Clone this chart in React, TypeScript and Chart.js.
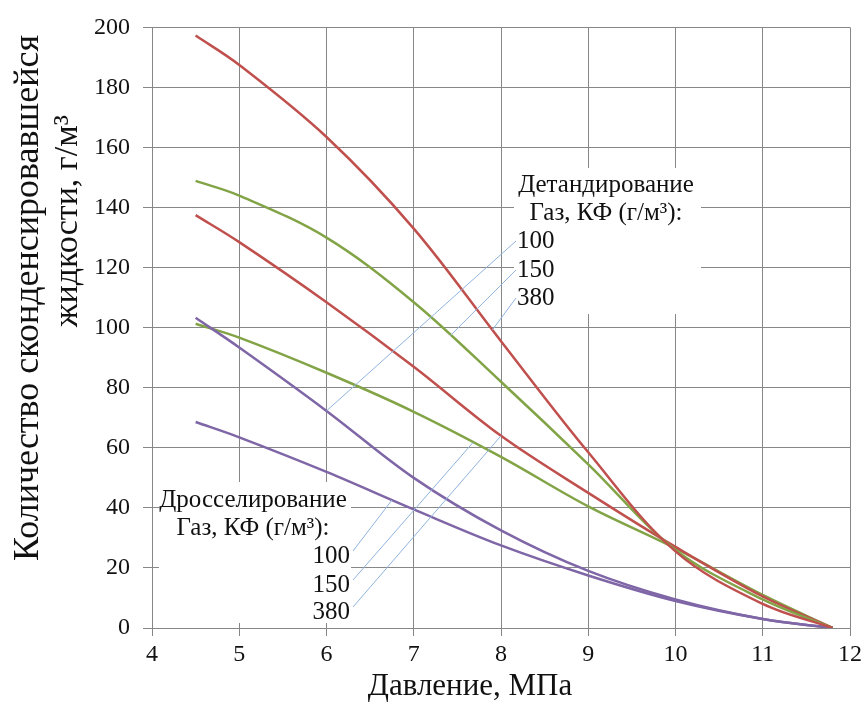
import React, { useEffect, useRef } from 'react';
import { Chart, registerables } from 'chart.js';

Chart.register(...registerables);

// ---- data ----
const pressures = [4.5, 5, 6, 7, 8, 9, 10, 11, 11.8];
const detander380 = [197.3, 187.5, 163.5, 133, 95.5, 58.5, 25.5, 8, 0];
const detander150 = [148.9, 144, 130, 108.5, 82, 54.5, 26, 9.5, 0];
const detander100 = [103.3, 93.4, 72.3, 50, 32.5, 19, 9.5, 3, 0];
const throttle380 = [137.5, 128.5, 108.5, 87, 64, 45, 27, 10.5, 0];
const throttle150 = [101.3, 96.7, 85, 72, 57, 40.5, 26.5, 11, 0];
const throttle100 = [68.6, 63.5, 52, 39.5, 27.5, 17.5, 9, 3, 0];

const gasLabels = ['100', '150', '380'];
// leader line targets (data units) for 100, 150, 380
const detanderLeaderX = [6, 7.42, 7.9];
const detanderLeaderY = [72.3, 97.4, 99.2];
const throttleLeaderX = [6.75, 7.68, 8.0];
const throttleLeaderY = [42.6, 61.8, 64];

const xTitle = 'Давление, МПа';
const yTitle1 = 'Количество сконденсировавшейся';
const yTitle2 = 'жидкости, г/м³';
const detanderTitle = 'Детандирование';
const throttleTitle = 'Дросселирование';
const gasTitle = 'Газ, КФ (г/м³):';

const RED = '#C0504D';
const GREEN = '#82A447';
const PURPLE = '#7F66A6';
const GRID = '#878787';
const LEADER = '#8FB3DE';
const FONT = '"Liberation Serif", "Times New Roman", serif';

const mk = (ys: number[]) => pressures.map((x, i) => ({ x, y: ys[i] }));

const annotationPlugin = {
  id: 'annots',
  beforeDatasetsDraw(chart: any) {
    const ctx = chart.ctx;
    ctx.save();
    ctx.fillStyle = '#ffffff';
    ctx.fillRect(514, 168, 187, 146);
    ctx.fillRect(159, 482, 192, 141);
    ctx.restore();
  },
  afterDatasetsDraw(chart: any) {
    const ctx = chart.ctx;
    const xs = chart.scales.x;
    const ys = chart.scales.y;
    ctx.save();
    ctx.strokeStyle = LEADER;
    ctx.lineWidth = 1;
    const upBase = [248, 277, 305];
    const lowBase = [563, 592, 619];
    for (let i = 0; i < 3; i++) {
      ctx.beginPath();
      ctx.moveTo(516, upBase[i] - 7);
      ctx.lineTo(xs.getPixelForValue(detanderLeaderX[i]), ys.getPixelForValue(detanderLeaderY[i]));
      ctx.stroke();
      ctx.beginPath();
      ctx.moveTo(353, lowBase[i] - 12);
      ctx.lineTo(xs.getPixelForValue(throttleLeaderX[i]), ys.getPixelForValue(throttleLeaderY[i]));
      ctx.stroke();
    }
    ctx.fillStyle = '#111';
    ctx.font = `25px ${FONT}`;
    ctx.textBaseline = 'alphabetic';
    ctx.textAlign = 'center';
    ctx.fillText(detanderTitle, 606, 192);
    ctx.fillText(gasTitle, 606, 220);
    ctx.fillText(throttleTitle, 253, 507);
    ctx.fillText(gasTitle, 253, 535);
    ctx.textAlign = 'left';
    for (let i = 0; i < 3; i++) ctx.fillText(gasLabels[i], 517, upBase[i]);
    ctx.textAlign = 'right';
    for (let i = 0; i < 3; i++) ctx.fillText(gasLabels[i], 350, lowBase[i]);
    ctx.restore();
  },
  afterDraw(chart: any) {
    const ctx = chart.ctx;
    ctx.save();
    ctx.fillStyle = '#111';
    ctx.textAlign = 'center';
    ctx.font = `31px ${FONT}`;
    ctx.textBaseline = 'alphabetic';
    ctx.fillText(xTitle, 470, 695);
    ctx.textBaseline = 'middle';
    ctx.font = `36px ${FONT}`;
    ctx.translate(29, 298);
    ctx.rotate(-Math.PI / 2);
    ctx.fillText(yTitle1, 0, 0);
    ctx.restore();
    ctx.save();
    ctx.fillStyle = '#111';
    ctx.textAlign = 'center';
    ctx.textBaseline = 'middle';
    ctx.font = `34px ${FONT}`;
    ctx.translate(68, 221);
    ctx.rotate(-Math.PI / 2);
    ctx.fillText(yTitle2, 0, 0);
    ctx.restore();
  },
};

export default function App() {
  const ref = useRef<HTMLCanvasElement | null>(null);
  useEffect(() => {
    if (!ref.current) return;
    const chart = new Chart(ref.current, {
      type: 'line',
      data: {
        datasets: [
          { label: 'Детандирование 380', data: mk(detander380), borderColor: RED },
          { label: 'Детандирование 150', data: mk(detander150), borderColor: GREEN },
          { label: 'Детандирование 100', data: mk(detander100), borderColor: PURPLE },
          { label: 'Дросселирование 380', data: mk(throttle380), borderColor: RED },
          { label: 'Дросселирование 150', data: mk(throttle150), borderColor: GREEN },
          { label: 'Дросселирование 100', data: mk(throttle100), borderColor: PURPLE },
        ].map((d) => ({
          ...d,
          borderWidth: 2.5,
          pointRadius: 0,
          fill: false,
          tension: 0.35,
        })),
      },
      options: {
        animation: false,
        responsive: false,
        devicePixelRatio: 1,
        layout: { padding: { top: 22, right: 15, left: 0, bottom: 0 } },
        plugins: { legend: { display: false }, tooltip: { enabled: false } },
        scales: {
          x: {
            type: 'linear',
            min: 4,
            max: 12,
            ticks: { stepSize: 1, color: '#111', font: { family: FONT, size: 24 }, padding: 4, maxRotation: 0 },
            grid: { color: GRID, lineWidth: 1, tickLength: 8 },
            border: { color: GRID, width: 1 },
            afterFit: (s: any) => { s.height = 80; },
          },
          y: {
            type: 'linear',
            min: 0,
            max: 200,
            ticks: { stepSize: 20, color: '#111', font: { family: FONT, size: 24 }, padding: 13 },
            grid: { color: GRID, lineWidth: 1, tickLength: 9 },
            border: { color: GRID, width: 1 },
            afterFit: (s: any) => { s.width = 152; },
          },
        },
      },
      plugins: [annotationPlugin],
    } as any);
    return () => chart.destroy();
  }, []);
  return (
    <div style={{ position: 'absolute', left: 0, top: 0, width: 866, height: 708, background: '#fff' }}>
      <canvas ref={ref} width={866} height={708} style={{ display: 'block' }} />
    </div>
  );
}
